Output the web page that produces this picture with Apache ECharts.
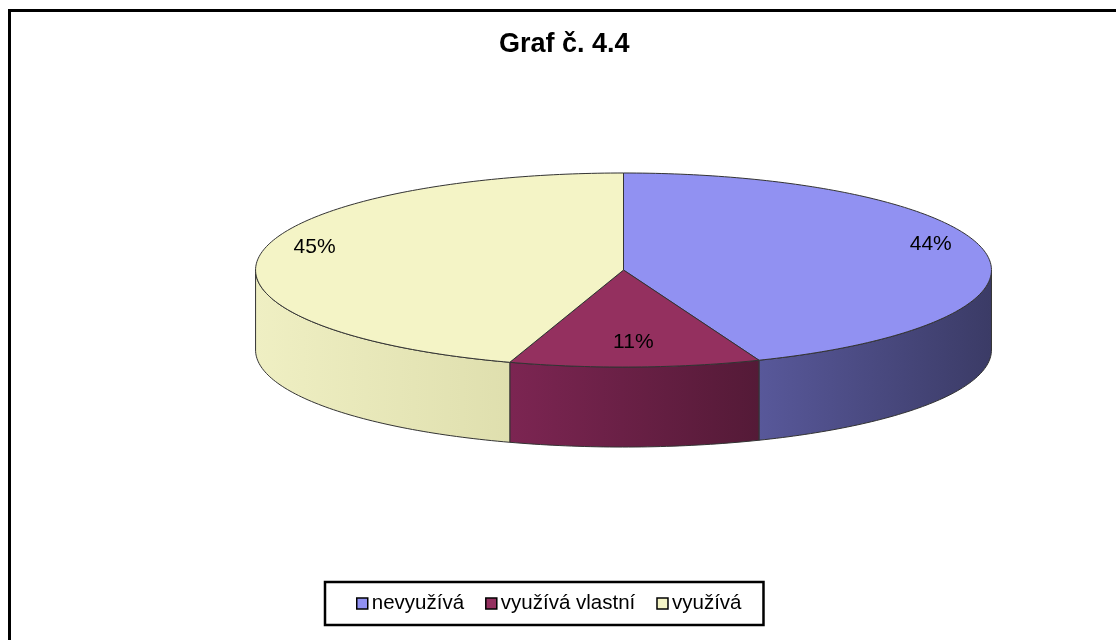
<!DOCTYPE html>
<html>
<head>
<meta charset="utf-8">
<script src="https://cdn.jsdelivr.net/npm/echarts@6/dist/echarts.min.js"></script>
<style>
  html, body { margin: 0; padding: 0; background: #fff; }
  #chart { width: 1116px; height: 640px; }
</style>
</head>
<body>
<div id="chart"></div>
<script>
// data
const categories = ["nevyužívá", "využívá vlastní", "využívá"];
const values = [44, 11, 45];

// colours: top face, side wall gradient (left -> right)
const topColors = ["#9191f2", "#94305f", "#f4f4c6"];
const sideColors = [
  ["#58589a", "#3b3b66"],
  ["#7c2552", "#541a37"],
  ["#efefc3", "#dfdfae"],
];

// pie layout as share of canvas size
const pie = { cx: 0.5587, cy: 0.4219, rx: 0.3297, ry: 0.1516, depth: 0.125 };

const total = values.reduce((a, b) => a + b, 0);
const starts = [];
let acc = 0;
values.forEach((v) => {
  starts.push((acc / total) * 360);
  acc += v;
});

function renderSlice(i) {
  return function (params, api) {
    const W = api.getWidth(), H = api.getHeight();
    const cx = W * pie.cx, cy = H * pie.cy;
    const rx = W * pie.rx, ry = H * pie.ry, d = H * pie.depth;
    const val = api.value(0);
    const a0 = starts[i];
    const a1 = a0 + (val / total) * 360;

    const pt = (deg, dy) => {
      const r = (deg * Math.PI) / 180;
      return [cx + rx * Math.sin(r), cy - ry * Math.cos(r) + (dy || 0)];
    };
    const arc = (s, e, dy) => {
      const pts = [];
      const n = Math.max(2, Math.ceil(e - s));
      for (let k = 0; k <= n; k++) pts.push(pt(s + ((e - s) * k) / n, dy));
      return pts;
    };

    const children = [];
    // top face
    children.push({
      type: "polygon",
      z2: 10,
      shape: { points: [[cx, cy]].concat(arc(a0, a1, 0)) },
      style: { fill: topColors[i], stroke: "#333", lineWidth: 1 },
    });
    // front wall (visible part only)
    const s = Math.max(a0, 90), e = Math.min(a1, 270);
    if (e > s) {
      const pts = arc(s, e, 0).concat(arc(s, e, d).reverse());
      children.push({
        type: "polygon",
        z2: 5,
        shape: { points: pts },
        style: {
          fill: new echarts.graphic.LinearGradient(0, 0, 1, 0, [
            { offset: 0, color: sideColors[i][0] },
            { offset: 1, color: sideColors[i][1] },
          ]),
          stroke: "#333",
          lineWidth: 1,
        },
      });
    }
    // label
    const mid = (a0 + a1) / 2;
    const r = (mid * Math.PI) / 180;
    children.push({
      type: "text",
      z2: 20,
      style: {
        text: Math.round((val / total) * 100) + "%",
        x: cx + 0.85 * rx * Math.sin(r),
        y: cy - 0.85 * ry * Math.cos(r) - 10,
        align: "center",
        verticalAlign: "middle",
        fontSize: 21,
        fontFamily: "Liberation Sans",
        fill: "#000",
      },
    });
    return { type: "group", children: children };
  };
}

const chart = echarts.init(document.getElementById("chart"));

const option = {
  animation: false,
  backgroundColor: "#fff",
  title: {
    text: "Graf č. 4.4",
    left: 499,
    top: 31,
    padding: 0,
    textStyle: {
      fontFamily: "Liberation Sans",
      fontSize: 27,
      fontWeight: "bold",
      color: "#000",
    },
  },
  legend: {
    data: categories,
    left: 325,
    top: 582,
    padding: [11, 22, 11, 31],
    borderColor: "#000",
    borderWidth: 2.5,
    itemWidth: 11,
    itemHeight: 11,
    itemGap: 21,
    icon: "rect",
    selectedMode: false,
    itemStyle: { borderColor: "#000", borderWidth: 1.5 },
    textStyle: { fontFamily: "Liberation Sans", fontSize: 20.5, color: "#000", padding: [0, 0, 0, -1] },
  },
  graphic: [
    {
      type: "rect",
      silent: true,
      shape: { x: 9.5, y: 10.5, width: 1200, height: 700 },
      style: { fill: "none", stroke: "#000", lineWidth: 3 },
    },
  ],
  series: categories.map((name, i) => ({
    type: "custom",
    name: name,
    coordinateSystem: "none",
    itemStyle: { color: topColors[i] },
    renderItem: renderSlice(i),
    data: [[values[i]]],
  })),
};

chart.setOption(option);
</script>
</body>
</html>
